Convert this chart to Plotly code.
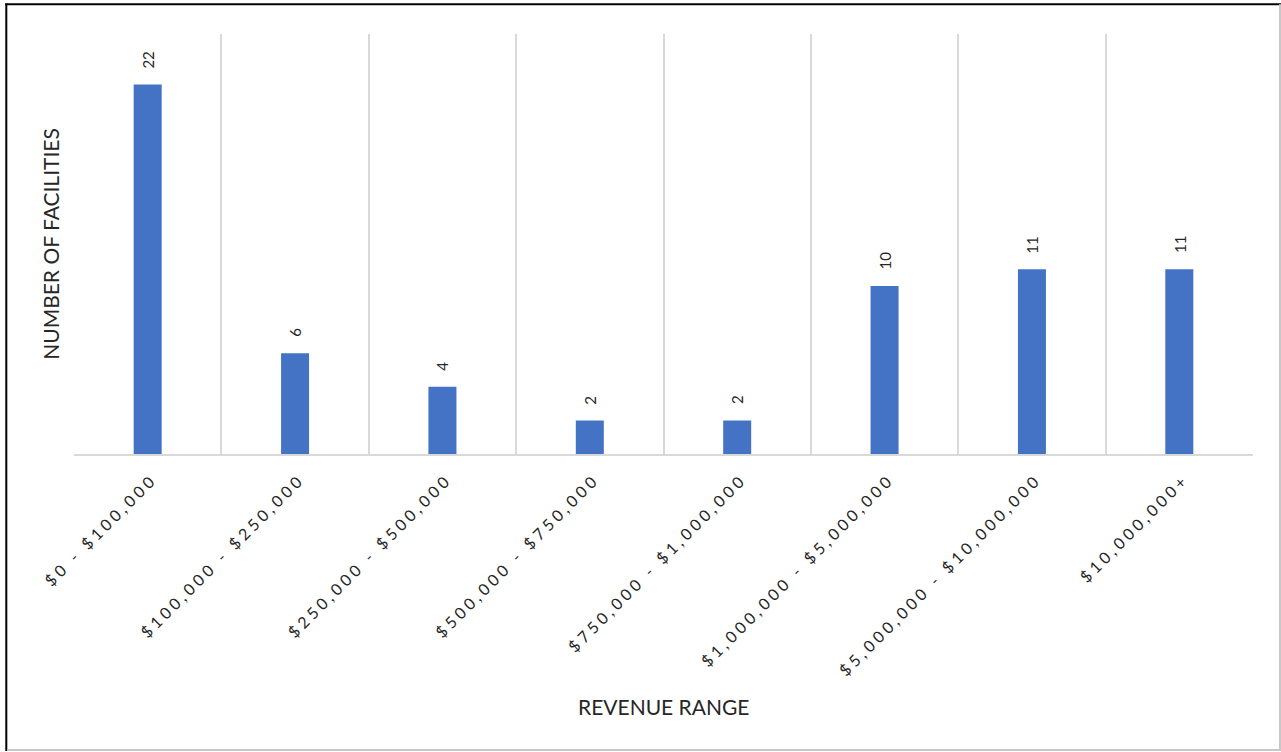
import plotly.graph_objects as go

categories = ["$0 - $100,000", "$100,000 - $250,000", "$250,000 - $500,000",
              "$500,000 - $750,000", "$750,000 - $1,000,000", "$1,000,000 - $5,000,000",
              "$5,000,000 - $10,000,000", "$10,000,000+"]
facilities = [22, 6, 4, 2, 2, 10, 11, 11]

W, H = 1281, 752
L, R, T, B = 74, 1253, 34, 454
pw, ph = R - L, B - T

def px(x):
    return (x - L) / pw

def py(y):
    return (B - y) / ph

BAR = "#4472C4"
GRID = "#d9d9d9"
TXT = "#262626"
FONT = "Lato"

fig = go.Figure()
fig.add_trace(go.Bar(x=categories, y=facilities, marker=dict(color=BAR, line=dict(width=0)),
                     hoverinfo="x+y"))

for c, v in zip(categories, facilities):
    fig.add_annotation(x=c, y=v, xref="x", yref="y", text=str(v), showarrow=False,
                       textangle=-90, yanchor="bottom", yshift=14,
                       font=dict(family=FONT, size=15, color=TXT))

fig.add_annotation(x=0.5, y=py(706), xref="paper", yref="paper", text="REVENUE RANGE",
                   showarrow=False, xanchor="center", yanchor="middle",
                   font=dict(family=FONT, size=21, color=TXT))

shapes = [
    dict(type="line", xref="paper", yref="paper", x0=px(6.3), x1=px(6.3), y0=py(3.5), y1=py(751), line=dict(color="black", width=2)),
    dict(type="line", xref="paper", yref="paper", x0=px(5.3), x1=px(1281), y0=py(4.3), y1=py(4.3), line=dict(color="black", width=2)),
    dict(type="line", xref="paper", yref="paper", x0=px(1280), x1=px(1280), y0=py(4.3), y1=py(751), line=dict(color="#c8c8c8", width=2)),
    dict(type="line", xref="paper", yref="paper", x0=px(7.3), x1=px(1281), y0=py(750), y1=py(750), line=dict(color="#c8c8c8", width=2)),
]

fig.update_layout(
    width=W, height=H,
    margin=dict(l=L, r=W - R, t=T, b=H - B, autoexpand=False),
    paper_bgcolor="white", plot_bgcolor="white",
    bargap=0.81, showlegend=False, shapes=shapes,
    font=dict(family=FONT, color=TXT),
    xaxis=dict(type="category", tickson="boundaries", showgrid=True, gridcolor=GRID, gridwidth=2,
               showline=True, linecolor=GRID, linewidth=2, ticks="", tickangle=-45,
               ticklabelstandoff=8, ticklabelshift=5,
               tickfont=dict(family=FONT, size=16, color=TXT), automargin=False,
               range=[-0.5, len(categories) - 0.5], zeroline=False),
    yaxis=dict(range=[0, 25], showgrid=False, zeroline=False, showticklabels=False, ticks="",
               showline=False, automargin=False,
               title=dict(text="NUMBER OF FACILITIES", standoff=7,
                          font=dict(family=FONT, size=21, color=TXT))),
)

post = ("document.querySelectorAll('.xtick text').forEach(function(t){"
        "t.style.letterSpacing='3.8px';});")

fig.write_html("out.html", post_script=post)
